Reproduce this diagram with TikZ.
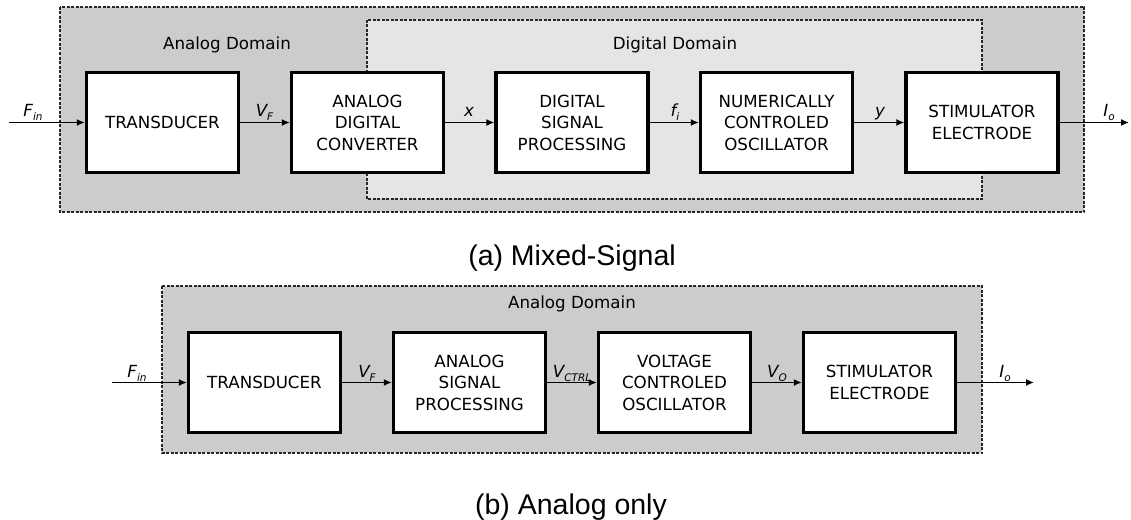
\documentclass[tikz,border=0pt]{standalone}
\usepackage{fontspec}
\setmainfont{DejaVu Sans}
\newfontfamily\capfont{Liberation Sans}
\usetikzlibrary{arrows.meta}
\newcommand{\sig}[2]{{\itshape #1}\raisebox{-0.45ex}{\fontsize{10.5}{10.5}\selectfont\itshape #2}}
\begin{document}
\begin{tikzpicture}[x=1pt,y=-1pt,
 blk/.style={draw, line width=3.2pt, fill=white, minimum width=152pt, minimum height=100pt, align=center, inner sep=0pt, font=\fontsize{16.7}{21.5}\selectfont},
 dom/.style={draw=black!85, line width=1.3pt, dash pattern=on 3pt off 1.5pt},
 arr/.style={line width=1.8pt, -{Latex[length=8pt,width=7pt]}},
 sl/.style={anchor=base, inner sep=0pt, font=\fontsize{16.7}{20}\selectfont},
 dl/.style={font=\fontsize{16.7}{20}\selectfont, inner sep=0pt},
 captxt/.style={font=\capfont\fontsize{28.5}{30}\selectfont, anchor=base, inner sep=0pt}]
\useasboundingbox (0,0) rectangle (1131,519);

% ---------------- (a) Mixed-Signal ----------------
\draw[dom, fill=black!20] (60,7) rectangle (1084,212);
\draw[dom, fill=black!10] (367,20) rectangle (982,199);
\node[dl] (adomA) at (227,45) {Analog Domain};
\node[dl] (ddomA) at (675,45) {Digital Domain};

\node[blk] (tA) at (162.5,122.5) {TRANSDUCER};
\node[blk] (adc) at (367.5,122.5) {ANALOG\\DIGITAL\\CONVERTER};
\node[blk] (dsp) at (572,122.5) {DIGITAL\\SIGNAL\\PROCESSING};
\node[blk] (nco) at (776.5,122.5) {NUMERICALLY\\CONTROLED\\OSCILLATOR};
\node[blk] (sA) at (982,122.5) {STIMULATOR\\ELECTRODE};

\coordinate (finA) at (9,122.5);
\coordinate (ioA) at (1129,122.5);
\draw[arr] (finA) -- (tA);
\draw[arr] (tA) -- (adc);
\draw[arr] (adc) -- (dsp);
\draw[arr] (dsp) -- (nco);
\draw[arr] (nco) -- (sA);
\draw[arr] (sA) -- (ioA);

\node[sl] (lfinA) at (33,116.5) {\sig{F}{in}};
\node[sl] (lvfA) at (264.5,116.5) {\sig{V}{F}};
\node[sl] (lx) at (469,116.5) {\itshape x};
\node[sl] (lfi) at (675,116.5) {\sig{f}{i}};
\node[sl] (ly) at (880,116.5) {\itshape y};
\node[sl] (lioA) at (1109,116.5) {\sig{I}{o}};

\node[captxt] (capA) at (572,265) {(a) Mixed-Signal};

% ---------------- (b) Analog only ----------------
\draw[dom, fill=black!20] (162,286) rectangle (982,453);
\node[dl] (adomB) at (572,304) {Analog Domain};

\node[blk] (tB) at (264.5,382.5) {TRANSDUCER};
\node[blk] (asp) at (469.5,382.5) {ANALOG\\SIGNAL\\PROCESSING};
\node[blk] (vco) at (674.5,382.5) {VOLTAGE\\CONTROLED\\OSCILLATOR};
\node[blk] (sB) at (879.5,382.5) {STIMULATOR\\ELECTRODE};

\coordinate (finB) at (112,382.5);
\coordinate (ioB) at (1034,382.5);
\draw[arr] (finB) -- (tB);
\draw[arr] (tB) -- (asp);
\draw[arr] (asp) -- (vco);
\draw[arr] (vco) -- (sB);
\draw[arr] (sB) -- (ioB);

\node[sl] (lfinB) at (137,377.5) {\sig{F}{in}};
\node[sl] (lvfB) at (367,377.5) {\sig{V}{F}};
\node[sl] (lvc) at (572,377.5) {\sig{V}{CTRL}};
\node[sl] (lvo) at (777,377.5) {\sig{V}{O}};
\node[sl] (lioB) at (1005,377.5) {\sig{I}{o}};

\node[captxt] (capB) at (571,514) {(b) Analog only};
\end{tikzpicture}
\end{document}
